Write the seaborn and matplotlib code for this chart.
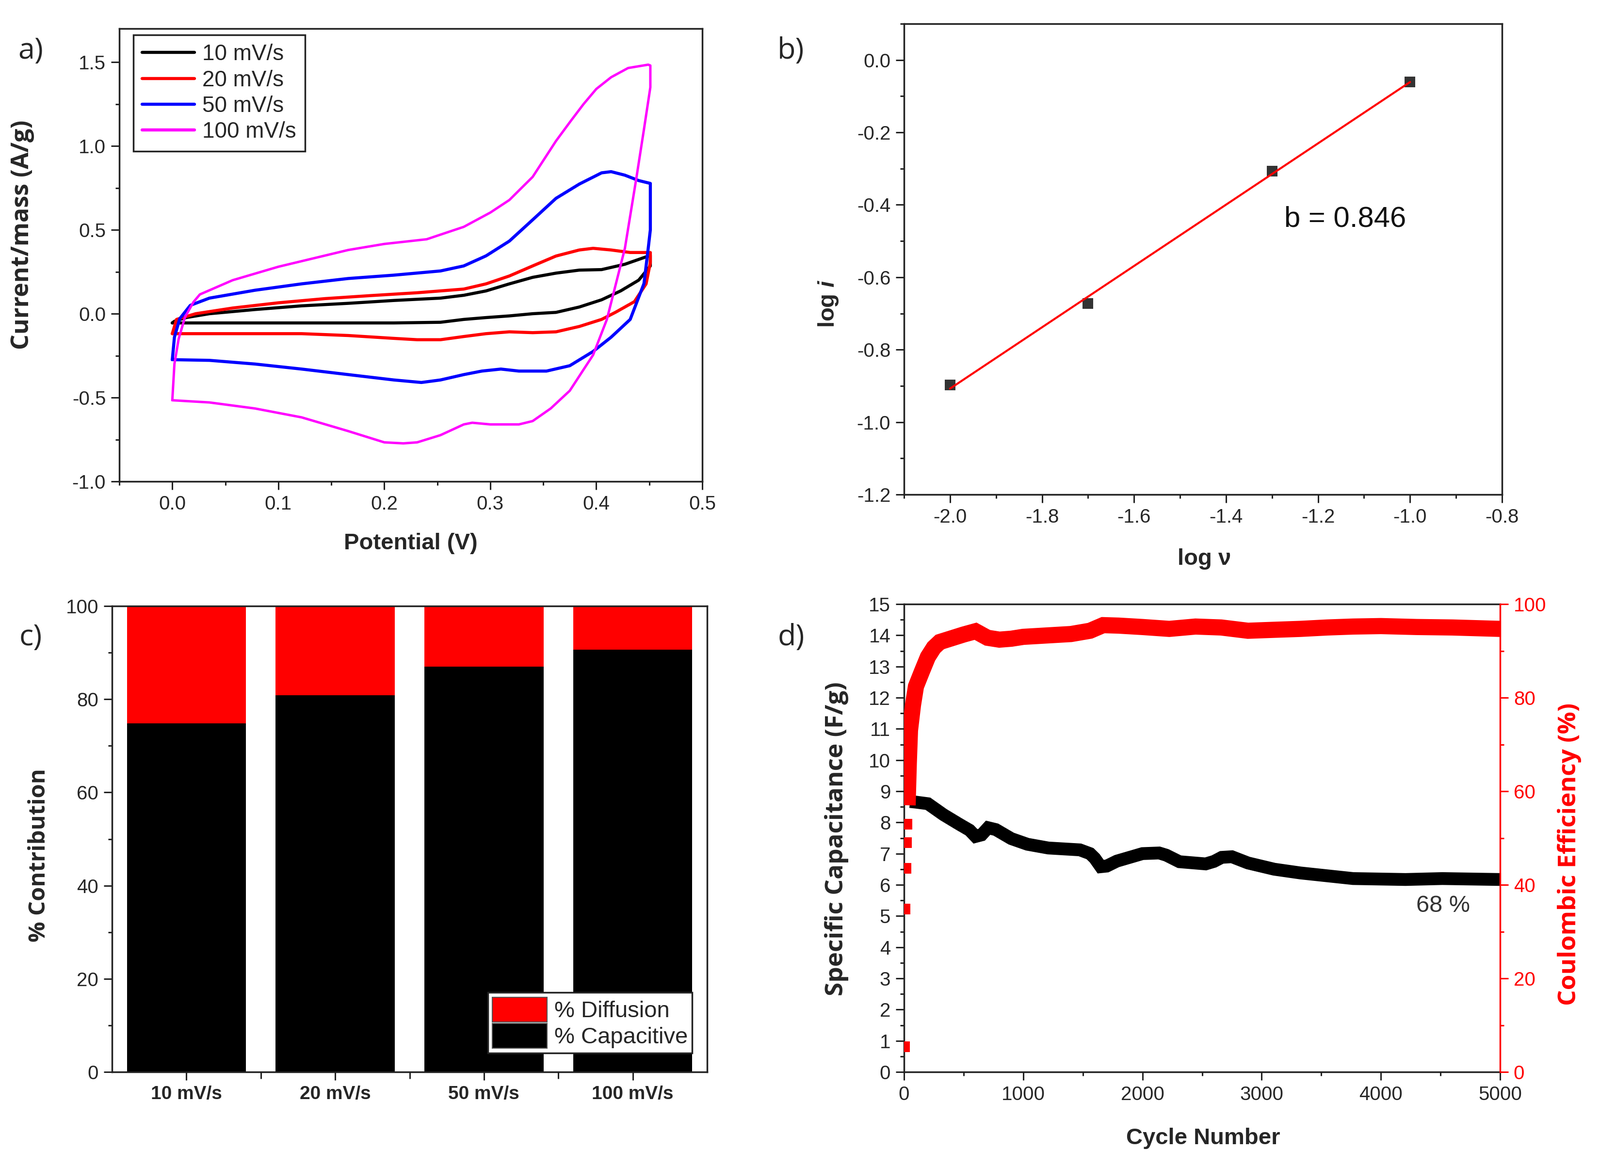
import numpy as np
import pandas as pd
import seaborn as sns
import matplotlib
matplotlib.use("Agg")
import matplotlib.pyplot as plt
from matplotlib.ticker import MultipleLocator, FixedLocator
from matplotlib.patches import Patch

# ---------------- data ----------------
# (a) cyclic voltammograms: potential (V) and current/mass (A/g), closed loops
V10 = [0.0, 0.002, 0.013, 0.035, 0.078, 0.122, 0.166, 0.209, 0.253, 0.275, 0.296, 0.318, 0.34, 0.362,
       0.384, 0.405, 0.427, 0.451, 0.451, 0.44, 0.423, 0.405, 0.384, 0.362, 0.34, 0.318, 0.296, 0.275,
       0.253, 0.209, 0.122, 0.035, 0.0]
I10 = [-0.055, -0.045, -0.023, 0.0, 0.025, 0.047, 0.062, 0.079, 0.093, 0.11, 0.136, 0.178, 0.217, 0.242,
       0.26, 0.263, 0.295, 0.348, 0.285, 0.2, 0.136, 0.083, 0.04, 0.008, 0.0, -0.013, -0.023, -0.034,
       -0.051, -0.055, -0.055, -0.055, -0.055]

V20 = [0.0, 0.004, 0.022, 0.057, 0.1, 0.144, 0.187, 0.231, 0.275, 0.296, 0.318, 0.34, 0.362, 0.384,
       0.397, 0.414, 0.432, 0.451, 0.451, 0.447, 0.436, 0.418, 0.405, 0.384, 0.362, 0.34, 0.318, 0.296,
       0.275, 0.253, 0.231, 0.209, 0.166, 0.122, 0.035, 0.0]
I20 = [-0.119, -0.034, 0.0, 0.034, 0.065, 0.09, 0.108, 0.125, 0.147, 0.178, 0.225, 0.285, 0.344, 0.38,
       0.39, 0.38, 0.365, 0.365, 0.305, 0.178, 0.072, 0.008, -0.034, -0.076, -0.108, -0.113, -0.108,
       -0.119, -0.136, -0.155, -0.155, -0.147, -0.13, -0.119, -0.119, -0.119]

V50 = [0.0, 0.002, 0.007, 0.017, 0.035, 0.078, 0.122, 0.166, 0.209, 0.253, 0.275, 0.296, 0.318, 0.34,
       0.362, 0.384, 0.405, 0.414, 0.427, 0.44, 0.451, 0.451, 0.449, 0.445, 0.432, 0.414, 0.397, 0.375,
       0.353, 0.327, 0.31, 0.292, 0.275, 0.253, 0.235, 0.209, 0.166, 0.122, 0.078, 0.035, 0.0]
I50 = [-0.274, -0.14, -0.03, 0.05, 0.093, 0.14, 0.178, 0.21, 0.23, 0.255, 0.285, 0.345, 0.433, 0.56,
       0.688, 0.773, 0.84, 0.847, 0.826, 0.794, 0.777, 0.5, 0.39, 0.18, -0.034, -0.14, -0.225, -0.31,
       -0.342, -0.342, -0.33, -0.342, -0.363, -0.395, -0.41, -0.395, -0.363, -0.33, -0.3, -0.278, -0.274]

V100 = [0.0, 0.002, 0.006, 0.012, 0.02, 0.026, 0.057, 0.1, 0.166, 0.2, 0.24, 0.275, 0.3, 0.318, 0.34,
        0.362, 0.376, 0.388, 0.4, 0.414, 0.43, 0.449, 0.451, 0.451, 0.445, 0.438, 0.427, 0.41, 0.397,
        0.375, 0.357, 0.34, 0.327, 0.3, 0.283, 0.275, 0.253, 0.231, 0.218, 0.2, 0.166, 0.122, 0.078,
        0.035, 0.0]
I100 = [-0.516, -0.3, -0.15, -0.02, 0.07, 0.115, 0.2, 0.28, 0.38, 0.416, 0.444, 0.518, 0.603, 0.678,
        0.816, 1.03, 1.15, 1.25, 1.34, 1.41, 1.465, 1.485, 1.48, 1.35, 1.1, 0.816, 0.39, -0.034, -0.246,
        -0.459, -0.565, -0.64, -0.66, -0.66, -0.65, -0.66, -0.724, -0.767, -0.773, -0.767, -0.70,
        -0.618, -0.565, -0.529, -0.516]
cv_labels = ["10 mV/s", "20 mV/s", "50 mV/s", "100 mV/s"]

# (b) log i vs log v
log_v = [-2.0, -1.7, -1.3, -1.0]
log_i = [-0.897, -0.672, -0.307, -0.061]

# (c) contribution
rates = ["10 mV/s", "20 mV/s", "50 mV/s", "100 mV/s"]
capacitive = [74.8, 80.9, 87.0, 90.6]
diffusion = [25.2, 19.1, 13.0, 9.4]

# (d) cycling
cyc_cap = [50, 100, 200, 330, 460, 550, 600, 650, 705, 770, 900, 1035, 1210, 1475, 1560, 1600, 1650,
           1700, 1785, 2000, 2140, 2200, 2310, 2530, 2600, 2665, 2750, 2885, 3105, 3325, 3546, 3767,
           4207, 4515, 5000]
cap = [8.67, 8.65, 8.6, 8.25, 7.95, 7.75, 7.55, 7.6, 7.83, 7.77, 7.48, 7.3, 7.18, 7.12, 7.0, 6.85, 6.58,
       6.6, 6.76, 7.0, 7.02, 6.95, 6.74, 6.67, 6.75, 6.88, 6.9, 6.7, 6.5, 6.38, 6.29, 6.2, 6.17, 6.2, 6.17]
cyc_ce_early = [5, 10, 15, 20, 25]
ce_early = [5.4, 34.8, 43.5, 49.0, 53.0]
cyc_ce = [30, 40, 50, 75, 100, 150, 200, 250, 300, 400, 500, 600, 700, 800, 900, 1000, 1200, 1400, 1560,
          1670, 1800, 2000, 2225, 2445, 2660, 2885, 3100, 3325, 3550, 3767, 4000, 4300, 4600, 5000]
ce = [57.0, 66.0, 73.0, 78.4, 82.4, 85.6, 88.7, 90.7, 91.9, 92.7, 93.5, 94.2, 92.8, 92.4, 92.6, 93.0,
      93.3, 93.6, 94.3, 95.5, 95.4, 95.1, 94.7, 95.2, 95.0, 94.3, 94.5, 94.7, 95.0, 95.2, 95.3, 95.1,
      95.0, 94.7]

# ---------------- style ----------------
sns.set_style("ticks")
plt.rcParams["font.family"] = ["Liberation Sans", "DejaVu Sans"]
plt.rcParams["axes.unicode_minus"] = False
plt.rcParams["mathtext.fontset"] = "custom"
plt.rcParams["mathtext.it"] = "Liberation Sans:italic:bold"
plt.rcParams["mathtext.rm"] = "Liberation Sans:bold"

SP = "#222222"
TICK_FS = 29
LAB_FS = 34

fig = plt.figure(figsize=(32.99, 24.05), dpi=100)
W, H = 3299, 2405


def add_ax(l, t, r, b):
    return fig.add_axes([l / W, 1 - b / H, (r - l) / W, (b - t) / H])


def style_ax(ax, color=SP):
    for s in ax.spines.values():
        s.set_visible(True)
        s.set_color(color)
        s.set_linewidth(2.5)
    ax.tick_params(which="major", direction="out", length=12, width=2.2, color=SP,
                   labelsize=TICK_FS, pad=8)
    ax.tick_params(which="minor", direction="out", length=6, width=2.2, color=SP)
    ax.tick_params(top=False, right=False)


axA = add_ax(246, 59, 1448, 993)
axB = add_ax(1864, 49, 3097, 1020)
axC = add_ax(231, 1250, 1458, 2211)
axD = add_ax(1864, 1246, 3093, 2211)

# ---------------- (a) ----------------
cv_sets = [(V10, I10, "#000000", 4.6), (V20, I20, "#ff0000", 4.6),
           (V50, I50, "#0000ff", 4.6), (V100, I100, "#ff00ff", 3.6)]
for (v, i, c, lw), lab in zip(cv_sets, cv_labels):
    sns.lineplot(x=v, y=i, sort=False, estimator=None, color=c, lw=lw, ax=axA, label=lab)
axA.set_xlim(-0.05, 0.5)
axA.set_ylim(-1.0, 1.7)
axA.xaxis.set_minor_locator(MultipleLocator(0.05))
axA.yaxis.set_major_locator(FixedLocator([-1.0, -0.5, 0.0, 0.5, 1.0, 1.5]))
axA.yaxis.set_minor_locator(FixedLocator([-0.75, -0.25, 0.25, 0.75, 1.25]))
axA.yaxis.set_major_formatter(matplotlib.ticker.FormatStrFormatter("%.1f"))
axA.set_xticks([0.0, 0.1, 0.2, 0.3, 0.4, 0.5])
axA.set_xticklabels(["0.0", "0.1", "0.2", "0.3", "0.4", "0.5"])
style_ax(axA)
leg = axA.legend(loc="upper left", bbox_to_anchor=(0.024, 0.986), borderaxespad=0, fontsize=33,
                 frameon=True, fancybox=False, framealpha=1, edgecolor="#222222",
                 handlelength=2.35, handletextpad=0.35, labelspacing=0.2, borderpad=0.4)
leg.get_frame().set_linewidth(2.5)
for h in leg.get_lines():
    h.set_linewidth(4.6)
axA.set_xlabel("Potential (V)", fontsize=LAB_FS, fontweight="bold", va="center")
axA.xaxis.set_label_coords(0.5, -0.137)
axA.set_ylabel("Current/mass (A/g)", fontsize=36, fontweight="bold", family="Open Sans", va="center")
axA.yaxis.set_label_coords(-0.166, 0.545)

# ---------------- (b) ----------------
sns.regplot(x=log_v, y=log_i, ci=None, ax=axB, marker="s", color="black",
            scatter_kws={"s": 230, "color": "black", "zorder": 3, "linewidths": 0},
            line_kws={"color": "#ff0000", "lw": 3, "zorder": 4})
axB.set_xlim(-2.1, -0.8)
axB.set_ylim(-1.2, 0.1)
axB.xaxis.set_major_locator(MultipleLocator(0.2))
axB.xaxis.set_minor_locator(MultipleLocator(0.1))
axB.yaxis.set_major_locator(MultipleLocator(0.2))
axB.yaxis.set_minor_locator(MultipleLocator(0.1))
axB.xaxis.set_major_formatter(matplotlib.ticker.FormatStrFormatter("%.1f"))
axB.yaxis.set_major_formatter(matplotlib.ticker.FormatStrFormatter("%.1f"))
style_ax(axB)
axB.text(-1.273, -0.44, "b = 0.846", fontsize=43, ha="left", va="center", color="#111111")
axB.set_xlabel("log ν", fontsize=LAB_FS, fontweight="bold", va="center")
axB.xaxis.set_label_coords(0.502, -0.137)
axB.set_ylabel("log $i$", fontsize=LAB_FS, fontweight="bold", va="center")
axB.yaxis.set_label_coords(-0.1265, 0.406)

# ---------------- (c) ----------------
totals = [c + d for c, d in zip(capacitive, diffusion)]
sns.barplot(x=rates, y=totals, color="#ff0000", saturation=1, width=0.8, ax=axC, edgecolor="none")
sns.barplot(x=rates, y=capacitive, color="#000000", saturation=1, width=0.8, ax=axC, edgecolor="none")
axC.set_xlim(-0.5, 3.5)
axC.set_ylim(0, 100)
axC.yaxis.set_major_locator(MultipleLocator(20))
axC.yaxis.set_minor_locator(MultipleLocator(10))
axC.xaxis.set_minor_locator(FixedLocator([0.5, 1.5, 2.5]))
style_ax(axC)
axC.tick_params(axis="x", which="minor", length=10)
for t in axC.get_xticklabels():
    t.set_fontweight("bold")
    t.set_fontsize(28)
axC.set_xlabel("")
axC.set_ylabel("% Contribution", fontsize=34, fontweight="bold", family="Open Sans", va="center")
axC.yaxis.set_label_coords(-0.123, 0.465)
hC = [Patch(facecolor="#ff0000", edgecolor="#555555", lw=1.5, label="% Diffusion"),
      Patch(facecolor="#000000", edgecolor="#555555", lw=1.5, label="% Capacitive")]
legC = axC.legend(handles=hC, loc="lower right", bbox_to_anchor=(0.975, 0.041), borderaxespad=0,
                  fontsize=34, frameon=True, fancybox=False, framealpha=1, edgecolor="#222222",
                  handlelength=2.4, handleheight=1.3, handletextpad=0.3, labelspacing=0.05,
                  borderpad=0.2)
legC.get_frame().set_linewidth(2.5)

# ---------------- (d) ----------------
sns.lineplot(x=cyc_cap, y=cap, sort=False, estimator=None, color="black", lw=19, ax=axD,
             solid_capstyle="butt", solid_joinstyle="miter")
axD.set_xlim(0, 5000)
axD.set_ylim(0, 15)
axD.xaxis.set_major_locator(MultipleLocator(1000))
axD.xaxis.set_minor_locator(MultipleLocator(500))
axD.yaxis.set_major_locator(MultipleLocator(1))
axD.yaxis.set_minor_locator(MultipleLocator(0.5))
style_ax(axD)
axD.spines["right"].set_visible(False)
axD.text(4298, 5.33, "68 %", fontsize=35, ha="left", va="center", color="#333333")
axD.set_xlabel("Cycle Number", fontsize=LAB_FS, fontweight="bold", va="center")
axD.xaxis.set_label_coords(0.502, -0.142)
axD.set_ylabel("Specific Capacitance (F/g)", fontsize=37, fontweight="bold", family="Open Sans",
               va="center")
axD.yaxis.set_label_coords(-0.113, 0.498)

axD2 = axD.twinx()
sns.lineplot(x=cyc_ce, y=ce, sort=False, estimator=None, color="#ff0000", lw=24, ax=axD2,
             solid_capstyle="butt", solid_joinstyle="miter")
sns.scatterplot(x=cyc_ce_early, y=ce_early, marker="s", s=260, color="#ff0000", linewidth=0, ax=axD2)
axD2.set_ylim(0, 100)
axD2.set_xlim(0, 5000)
axD2.yaxis.set_major_locator(MultipleLocator(20))
axD2.yaxis.set_minor_locator(MultipleLocator(10))
for s in ["left", "top", "bottom"]:
    axD2.spines[s].set_visible(False)
axD2.spines["right"].set_visible(True)
axD2.spines["right"].set_color("#ff0000")
axD2.spines["right"].set_linewidth(2.5)
axD2.tick_params(axis="y", which="major", direction="out", length=12, width=2.2, color="#ff0000",
                 labelcolor="#ff0000", labelsize=TICK_FS, pad=8, right=True, left=False)
axD2.tick_params(axis="y", which="minor", direction="out", length=6, width=2.2, color="#ff0000",
                 right=True, left=False)
axD2.set_ylabel("Coulombic Efficiency (%)", fontsize=37, fontweight="bold", family="Open Sans",
                color="#ff0000", va="center", rotation=90)
axD2.yaxis.set_label_coords(1.116, 0.465)

# ---------------- panel letters ----------------
for x, y, s in [(63, 105, "a)"), (1631, 105, "b)"), (63, 1315, "c)"), (1631, 1315, "d)")]:
    fig.text(x / W, 1 - y / H, s, fontsize=44, family="Open Sans", ha="center", va="center")

fig.savefig("out.png", dpi=100)
